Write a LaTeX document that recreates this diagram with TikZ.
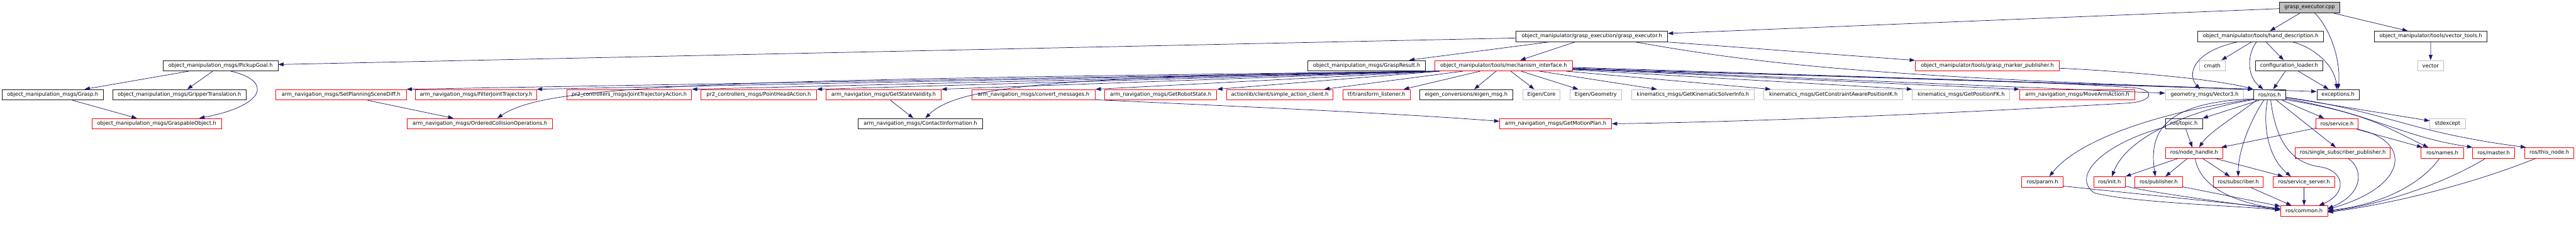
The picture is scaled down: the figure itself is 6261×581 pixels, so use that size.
\documentclass[tikz,border=0pt]{standalone}
\usepackage{fontspec}
\setmainfont{DejaVu Sans}
\usetikzlibrary{calc,arrows.meta}
\definecolor{mblue}{RGB}{25,25,112}
\definecolor{gborder}{RGB}{191,191,191}
\definecolor{rootfill}{RGB}{191,191,191}
\tikzset{
  nd/.style={draw, rectangle, fill=white, inner sep=0pt, minimum height=25.6pt, line width=1.2pt, font=\fontsize{12.6pt}{15pt}\selectfont},
  blk/.style={nd, draw=black!90},
  rd/.style={nd, draw=red},
  gry/.style={nd, draw=gborder},
  rootn/.style={nd, draw=black!90, fill=rootfill},
  edge/.style={draw=mblue, line width=1.1pt, -{Triangle[length=13pt,width=9pt]}, fill=none},
}
\begin{document}
\begin{tikzpicture}[x=1pt,y=-1pt]
\fill[white] (0,0) rectangle (6261,581);
\useasboundingbox (0,0) rectangle (6261,581);
% row 0
\node[rootn, minimum width=147pt] (root) at (5613.5,18) {grasp\_executor.cpp};
% row 1
\node[blk, minimum width=368pt] (gexh) at (3869,88.4) {object\_manipulator/grasp\_execution/grasp\_executor.h};
\node[blk, minimum width=305pt] (hand) at (5494.5,88.4) {object\_manipulator/tools/hand\_description.h};
\node[blk, minimum width=274pt] (vect) at (5908,88.4) {object\_manipulator/tools/vector\_tools.h};
% row 2
\node[blk, minimum width=279pt] (pick) at (536,159.4) {object\_manipulation\_msgs/PickupGoal.h};
\node[blk, minimum width=285pt] (gres) at (3321.5,159.4) {object\_manipulation\_msgs/GraspResult.h};
\node[rd, minimum width=335pt] (mech) at (3654.5,159.4) {object\_manipulator/tools/mechanism\_interface.h};
\node[rd, minimum width=350pt] (gmp) at (4830,159.4) {object\_manipulator/tools/grasp\_marker\_publisher.h};
\node[gry, minimum width=62pt] (cmath) at (5377,159.4) {cmath};
\node[blk, minimum width=163pt] (conf) at (5563.5,159.4) {configuration\_loader.h};
\node[gry, minimum width=63pt] (vector) at (5907.5,159.4) {vector};
% row 3
\node[blk, minimum width=247pt] (grasp) at (128,230) {object\_manipulation\_msgs/Grasp.h};
\node[blk, minimum width=324pt] (grip) at (436,230) {object\_manipulation\_msgs/GripperTranslation.h};
\node[rd, minimum width=317pt] (spsd) at (829,230) {arm\_navigation\_msgs/SetPlanningSceneDiff.h};
\node[rd, minimum width=294pt] (fjt) at (1157,230) {arm\_navigation\_msgs/FilterJointTrajectory.h};
\node[rd, minimum width=303pt] (jta) at (1529.5,230) {pr2\_controllers\_msgs/JointTrajectoryAction.h};
\node[rd, minimum width=281pt] (pha) at (1844,230) {pr2\_controllers\_msgs/PointHeadAction.h};
\node[rd, minimum width=280pt] (gsv) at (2147.5,230) {arm\_navigation\_msgs/GetStateValidity.h};
\node[rd, minimum width=300pt] (conv) at (2512,230) {arm\_navigation\_msgs/convert\_messages.h};
\node[rd, minimum width=273pt] (grs) at (2821,230) {arm\_navigation\_msgs/GetRobotState.h};
\node[rd, minimum width=259pt] (sac) at (3110.5,230) {actionlib/client/simple\_action\_client.h};
\node[rd, minimum width=163pt] (tfl) at (3345.5,230) {tf/transform\_listener.h};
\node[blk, minimum width=227pt] (eig) at (3563.5,230) {eigen\_conversions/eigen\_msg.h};
\node[gry, minimum width=91pt] (ecore) at (3746.5,230) {Eigen/Core};
\node[gry, minimum width=125pt] (egeo) at (3878.5,230) {Eigen/Geometry};
\node[gry, minimum width=299pt] (gksi) at (4114.5,230) {kinematics\_msgs/GetKinematicSolverInfo.h};
\node[gry, minimum width=338pt] (gcapik) at (4456,230) {kinematics\_msgs/GetConstraintAwarePositionIK.h};
\node[gry, minimum width=237pt] (gpfk) at (4766.5,230) {kinematics\_msgs/GetPositionFK.h};
\node[rd, minimum width=280pt] (maa) at (5049,230) {arm\_navigation\_msgs/MoveArmAction.h};
\node[gry, minimum width=190pt] (v3) at (5358,230) {geometry\_msgs/Vector3.h};
\node[blk, minimum width=78pt] (ros) at (5516,230) {ros/ros.h};
\node[blk, minimum width=103pt] (exc) at (5682.5,230) {exceptions.h};
% row 4
\node[rd, minimum width=315pt] (gobj) at (381,300.3) {object\_manipulation\_msgs/GraspableObject.h};
\node[rd, minimum width=353pt] (oco) at (1166.5,300.3) {arm\_navigation\_msgs/OrderedCollisionOperations.h};
\node[blk, minimum width=303pt] (ci) at (2237,300.3) {arm\_navigation\_msgs/ContactInformation.h};
\node[rd, minimum width=272pt] (gmpl) at (3781,300.3) {arm\_navigation\_msgs/GetMotionPlan.h};
\node[blk, minimum width=90pt] (topic) at (5308,300.3) {ros/topic.h};
\node[rd, minimum width=103pt] (serv) at (5680,300.3) {ros/service.h};
\node[gry, minimum width=86pt] (stdex) at (5949,300.3) {stdexcept};
% row 5
\node[rd, minimum width=140pt] (nh) at (5333,371) {ros/node\_handle.h};
\node[rd, minimum width=231pt] (ssp) at (5694,371) {ros/single\_subscriber\_publisher.h};
\node[rd, minimum width=103pt] (names) at (5936,371) {ros/names.h};
\node[rd, minimum width=102pt] (master) at (6061,371) {ros/master.h};
\node[rd, minimum width=120pt] (thisn) at (6196,371) {ros/this\_node.h};
% row 6
\node[rd, minimum width=100pt] (param) at (4964,441.6) {ros/param.h};
\node[rd, minimum width=77pt] (init) at (5127,441.6) {ros/init.h};
\node[rd, minimum width=115pt] (pub) at (5246.5,441.6) {ros/publisher.h};
\node[rd, minimum width=122pt] (sub) at (5440,441.6) {ros/subscriber.h};
\node[rd, minimum width=150pt] (ss) at (5600,441.6) {ros/service\_server.h};
% row 7
\node[rd, minimum width=114pt] (common) at (5600,512) {ros/common.h};

% ---- edges ----
% root
\draw[edge] (root) -- (gexh);
\draw[edge] (root) -- (hand);
\draw[edge] ($(root.south)+(12,0)$) .. controls (5665,70) and (5690,150) .. (exc.north);
\draw[edge] (root) -- (vect);
% grasp_executor.h
\draw[edge] (gexh) -- (pick);
\draw[edge] (gexh) -- (gres);
\draw[edge] (gexh) -- (mech);
\draw[edge] (gexh) -- (gmp);
\draw[edge] ($(gexh.south east)+(-80,0)$) .. controls (4250,150) and (4500,185) .. (ros.north west);
% PickupGoal
\draw[edge] (pick) -- (grasp);
\draw[edge] (pick) -- (grip);
\draw[edge] ($(pick.south)+(25,0)$) .. controls (660,195) and (650,255) .. ($(gobj.north east)+(-55,0)$);
\draw[edge] (grasp) -- (gobj);
% mechanism_interface to the left
\draw[edge] ($(mech.south west)+(2,0)$) -- (spsd.north east);
\draw[edge] ($(mech.south west)+(4,0)$) -- (fjt.north east);
\draw[edge] ($(mech.south west)+(6,0)$) -- (jta.north east);
\draw[edge] ($(mech.south west)+(8,0)$) -- (pha.north east);
\draw[edge] ($(mech.south west)+(10,0)$) -- (gsv.north east);
\draw[edge] ($(mech.south west)+(12,0)$) -- (conv.north east);
\draw[edge] ($(mech.south west)+(14,0)$) -- (grs.north east);
\draw[edge] ($(mech.south west)+(69,0)$) -- ($(sac.north east)+(-22,0)$);
\draw[edge] ($(mech.south west)+(111,0)$) -- ($(tfl.north east)+(-16,0)$);
\draw[edge] ($(mech.south west)+(150,0)$) -- ($(eig.north)+(19.5,0)$);
\draw[edge] ($(mech.south west)+(3,0)$) .. controls (1700,195) and (1330,205) .. ($(oco.north)+(42,0)$);
\draw[edge] ($(mech.south west)+(5,0)$) .. controls (2600,185) and (2330,205) .. ($(ci.north)+(12,0)$);
% mechanism_interface to the right
\draw[edge] (mech) -- (ecore);
\draw[edge] (mech) -- (egeo);
\draw[edge] (mech) -- (gksi);
\draw[edge] (mech) -- (gcapik);
\draw[edge] ($(mech.east)+(0,10)$) -- (gpfk.north west);
\draw[edge] ($(mech.east)+(0,8)$) -- (maa.north west);
\draw[edge] (mech) -- (v3);
\draw[edge] ($(mech.east)+(0,4)$) -- (ros.north west);
\draw[edge] ($(mech.east)+(0,6)$) -- ($(exc.west)+(0,-8)$);
\draw[edge] ($(mech.east)+(0,9)$) .. controls (4500,185) and (5050,200) .. (5195,214) .. controls (5235,220) and (5235,245) .. (5175,250) .. controls (4800,272) and (4300,295) .. (gmpl.east);
% second level
\draw[edge] ($(conv.east)+(0,12)$) .. controls (3000,258) and (3400,275) .. ($(gmpl.west)+(0,-6)$);
\draw[edge] (spsd) -- (oco);
\draw[edge] (gsv) -- (ci);
\draw[edge] ($(gmp.east)+(0,6)$) .. controls (5200,175) and (5400,195) .. (ros.north west);
% hand_description
\draw[edge] ($(hand.south)+(-56,0)$) .. controls (5330,125) and (5315,180) .. ($(v3.north)+(-11,0)$);
\draw[edge] (hand) -- (cmath);
\draw[edge] ($(hand.south)+(-10,0)$) .. controls (5462,130) and (5460,185) .. ($(ros.north)+(-15,0)$);
\draw[edge] (hand) -- (conf);
\draw[edge] ($(hand.south)+(77,0)$) .. controls (5625,115) and (5675,160) .. ($(exc.north)+(-3,0)$);
% configuration_loader
\draw[edge] (conf) -- (ros);
\draw[edge] (conf) -- (exc);
% vector_tools
\draw[edge] (vect) -- (vector);
% ros/ros.h
\draw[edge] ($(ros.south)+(-25,0)$) -- (topic.north east);
\draw[edge] ($(ros.south)+(-32,0)$) .. controls (5430,285) and (5370,320) .. ($(nh.north)+(12,0)$);
\draw[edge] ($(ros.west)+(0,10)$) .. controls (5260,248) and (5222,320) .. ($(pub.north)+(-8,0)$);
\draw[edge] ($(ros.west)+(0,11)$) .. controls (5250,270) and (5050,340) .. ($(param.north)+(17,0)$);
\draw[edge] ($(ros.west)+(0,12)$) .. controls (5330,265) and (5170,330) .. ($(init.north)+(6,0)$);
\draw[edge] ($(ros.south)+(-14,0)$) .. controls (5465,300) and (5440,370) .. (sub.north);
\draw[edge] ($(ros.south)+(-5,0)$) .. controls (5500,300) and (5510,380) .. ($(ss.north)+(-32,0)$);
\draw[edge] ($(ros.south)+(3,0)$) .. controls (5530,330) and (5560,395) .. (5640,405) .. controls (5700,415) and (5705,470) .. ($(common.north)+(36,0)$);
\draw[edge] (ros) -- (serv);
\draw[edge] (ros) -- (ssp);
\draw[edge] (ros) -- (stdex);
\draw[edge] ($(ros.east)+(0,6)$) .. controls (5800,270) and (5850,320) .. ($(thisn.north west)+(4,0)$);
\draw[edge] ($(ros.east)+(0,9)$) .. controls (5780,280) and (5830,330) .. (master.north west);
\draw[edge] ($(ros.east)+(0,12)$) .. controls (5760,275) and (5810,315) .. ($(names.north west)+(18,0)$);
% ros/topic.h
\draw[edge] (topic) -- (nh);
\draw[edge] ($(topic.west)+(0,8)$) .. controls (5120,345) and (5030,425) .. (5090,468) .. controls (5180,492) and (5450,500) .. ($(common.west)+(0,-2)$);
% ros/service.h
\draw[edge] (serv) -- (nh);
\draw[edge] (serv) -- (names);
\draw[edge] ($(serv.south east)+(-2,0)$) .. controls (5860,340) and (5860,450) .. ($(common.east)+(0,-4)$);
% ros/node_handle.h
\draw[edge] (nh) -- (pub);
\draw[edge] (nh) -- (sub);
\draw[edge] (nh) -- (ss);
\draw[edge] (nh) -- (init);
\draw[edge] ($(nh.south)+(2,0)$) .. controls (5345,440) and (5400,485) .. ($(common.west)+(0,-4)$);
% row 5 to common
\draw[edge] ($(ssp.south)+(13,0)$) .. controls (5745,410) and (5745,470) .. ($(common.east)+(0,-6)$);
\draw[edge] ($(names.south)+(-7,0)$) .. controls (5890,440) and (5800,495) .. ($(common.east)+(0,-1)$);
\draw[edge] ($(master.south)+(-20,0)$) .. controls (5950,440) and (5800,495) .. ($(common.east)+(0,1)$);
\draw[edge] ($(thisn.south)+(-33,0)$) .. controls (6000,450) and (5800,497) .. ($(common.east)+(0,3)$);
% row 6 to common
\draw[edge] ($(param.east)+(0,10)$) -- ($(common.west)+(0,-6)$);
\draw[edge] ($(init.east)+(0,10)$) .. controls (5220,466) and (5400,490) .. ($(common.west)+(0,-3)$);
\draw[edge] (pub) -- (common);
\draw[edge] (sub) -- (common);
\draw[edge] (ss) -- (common);
\end{tikzpicture}
\end{document}
